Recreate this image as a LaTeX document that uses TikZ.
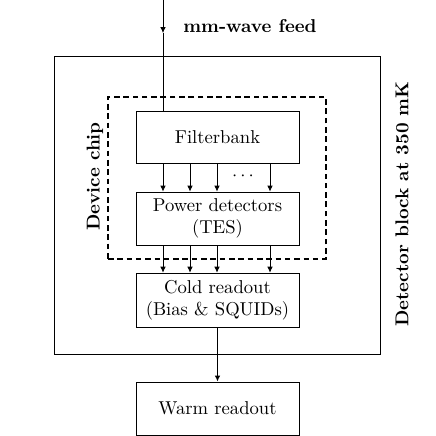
\documentclass[tikz,border=0pt]{standalone}
\usetikzlibrary{arrows.meta}
\begin{document}
\begin{tikzpicture}[x=0.537pt,y=-0.537pt,
  box/.style={draw,rectangle,inner sep=0pt,minimum width=87.5pt,align=center,font=\normalsize},
  arr/.style={-{Latex[length=3.2pt,width=3pt]}},
  chip/.style={draw,semithick,dash pattern=on 3pt off 2pt},
  lbl/.style={font=\bfseries,inner sep=0pt}]
\useasboundingbox (0,0) rectangle (436,436);
% outer block
\node[draw,rectangle,inner sep=0pt,minimum width=175.1pt,minimum height=160pt] (block) at (217,205) {};
% device chip
\node[chip,rectangle,inner sep=0pt,minimum width=117.1pt,minimum height=87pt] (chipbox) at (217,178) {};
% boxes
\node[box,minimum height=27.9pt] (fb) at (217.5,137) {Filterbank};
\node[box,minimum height=28.5pt] (pd) at (217.5,218.5) {Power detectors\\(TES)};
\node[box,minimum height=29pt] (cr) at (217.5,300) {Cold readout\\(Bias \& SQUIDs)};
\node[box,minimum height=28.5pt] (wr) at (217.5,408.5) {Warm readout};
% labels
\node[lbl,anchor=west] (feedlbl) at (183,26) {mm-wave feed};
\node[lbl,rotate=90] (chiplbl) at (95,176.5) {Device chip};
\node[lbl,rotate=90] (blocklbl) at (402,204) {Detector block at 350 mK};
% feed
\coordinate (ftop) at (163,0);
\coordinate (fmid) at (163,33);
\draw[arr] (ftop) -- (fmid);
\draw (fmid) -- (fmid |- fb.north);
% channel arrows
\foreach \x in {163,190,217,270}{
  \coordinate (a\x) at (\x,0);
  \draw[arr] (a\x |- fb.south) -- (a\x |- pd.north);
  \draw[arr] (a\x |- pd.south) -- (a\x |- cr.north);
}
\node[inner sep=0pt] (dots) at (243,176) {$\cdots$};
% cold to warm
\draw[arr,semithick] (cr.south) -- (wr.north);
\end{tikzpicture}
\end{document}
